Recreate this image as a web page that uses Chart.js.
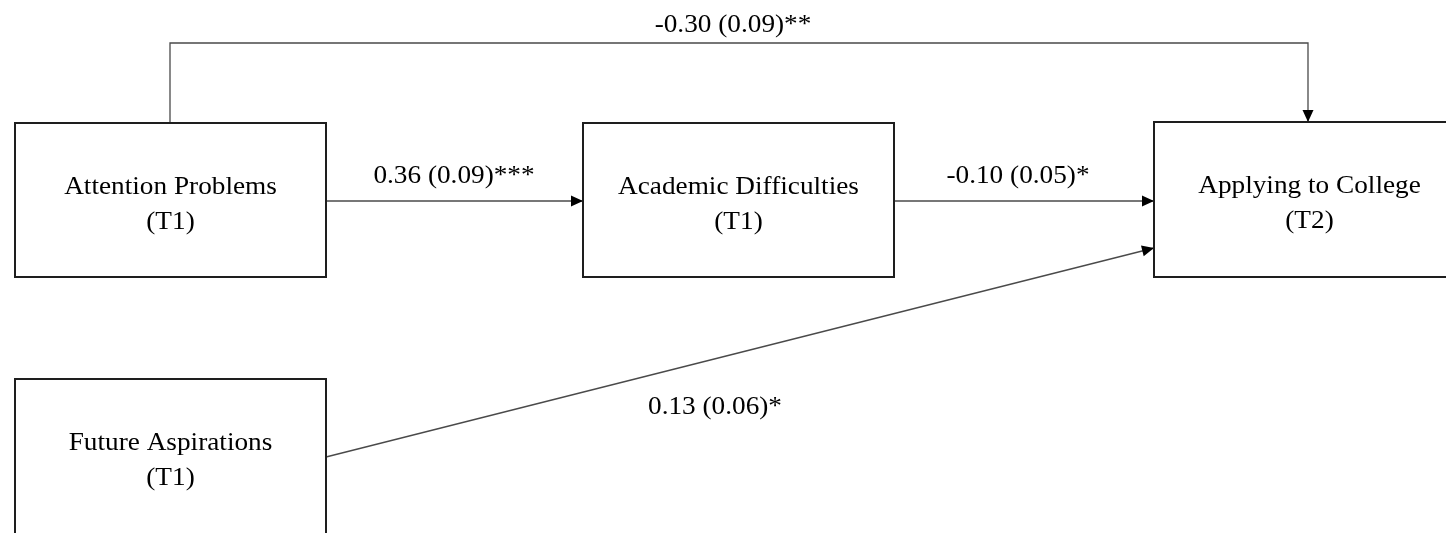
<!DOCTYPE html>
<html>
<head>
<meta charset="utf-8">
<title>Path model</title>
<script src="https://cdn.jsdelivr.net/npm/chart.js@4.4.1/dist/chart.umd.min.js"></script>
<style>
  html, body { margin: 0; padding: 0; background: #fff; }
  #wrap { width: 1446px; height: 533px; position: relative; }
</style>
</head>
<body>
<div id="wrap"><canvas id="myChart"></canvas></div>
<script>
// Variables in the model
const nodeNames = ["Attention Problems", "Academic Difficulties", "Applying to College", "Future Aspirations"];
const nodeTimes = ["(T1)", "(T1)", "(T2)", "(T1)"];

// Paths: from -> to, estimate (SE) and significance stars
const pathFrom = [0, 1, 0, 3];
const pathTo = [1, 2, 2, 2];
const estimates = [0.36, -0.10, -0.30, 0.13];
const stdErrors = [0.09, 0.05, 0.09, 0.06];
const stars = ["***", "*", "**", "*"];

// Layout (in axis units, which map 1:1 to the canvas)
const boxLeft = [15, 583, 1154, 15];
const boxTop = [123, 123, 122, 379];
const boxW = 311;
const boxH = [154, 154, 155, 158]; // last one runs off the bottom edge
// route for each path: list of [x, y] points, last one is the arrow tip
const pathRoutes = [
  [[326, 201], [583, 201]],
  [[894, 201], [1154, 201]],
  [[170, 123], [170, 43], [1308, 43], [1308, 122]],
  [[326, 457], [1154, 248]],
];
const labelPos = [[454, 183], [1018, 183], [733, 32], [715, 414]];

const fmt = (v) => v.toFixed(2);

const diagramPlugin = {
  id: "pathDiagram",
  afterDatasetsDraw(chart) {
    const { ctx, scales } = chart;
    const px = (v) => scales.x.getPixelForValue(v);
    const py = (v) => scales.y.getPixelForValue(v);
    const font = "25px 'Liberation Serif', 'Times New Roman', serif";

    // the reference text is a bit wider than the plain serif face
    const drawText = (text, x, y) => {
      ctx.save();
      ctx.translate(x, y);
      ctx.scale(1.09, 1);
      ctx.fillText(text, 0, 0);
      ctx.restore();
    };

    ctx.save();
    // paths
    pathRoutes.forEach((route) => {
      ctx.beginPath();
      route.forEach(([x, y], i) => {
        if (i === 0) ctx.moveTo(px(x), py(y));
        else ctx.lineTo(px(x), py(y));
      });
      ctx.strokeStyle = "#4a4a4a";
      ctx.lineWidth = 1.3;
      ctx.stroke();

      // arrow head
      const [x1, y1] = route[route.length - 2];
      const [x2, y2] = route[route.length - 1];
      const a = Math.atan2(py(y2) - py(y1), px(x2) - px(x1));
      const len = 12, half = 5.5;
      const tx = px(x2), ty = py(y2);
      ctx.beginPath();
      ctx.moveTo(tx, ty);
      ctx.lineTo(tx - len * Math.cos(a) + half * Math.sin(a), ty - len * Math.sin(a) - half * Math.cos(a));
      ctx.lineTo(tx - len * Math.cos(a) - half * Math.sin(a), ty - len * Math.sin(a) + half * Math.cos(a));
      ctx.closePath();
      ctx.fillStyle = "#000";
      ctx.fill();
    });

    // boxes
    nodeNames.forEach((name, i) => {
      const x0 = px(boxLeft[i]), y0 = py(boxTop[i]);
      const x1 = px(boxLeft[i] + boxW), y1 = py(boxTop[i] + boxH[i]);
      ctx.fillStyle = "#fff";
      ctx.fillRect(x0, y0, x1 - x0, y1 - y0);
      ctx.strokeStyle = "#1e1e1e";
      ctx.lineWidth = 2;
      ctx.strokeRect(x0, y0, x1 - x0, y1 - y0);

      const cx = px(boxLeft[i] + boxW / 2);
      ctx.fillStyle = "#000";
      ctx.font = font;
      ctx.textAlign = "center";
      ctx.textBaseline = "alphabetic";
      drawText(name, cx, py(boxTop[i] + 71));
      drawText(nodeTimes[i], cx, py(boxTop[i] + 106));
    });

    // coefficient labels
    estimates.forEach((est, i) => {
      ctx.fillStyle = "#000";
      ctx.font = font;
      ctx.textAlign = "center";
      ctx.textBaseline = "alphabetic";
      const [lx, ly] = labelPos[i];
      drawText(`${fmt(est)} (${fmt(stdErrors[i])})${stars[i]}`, px(lx), py(ly));
    });
    ctx.restore();
  },
};

const ctx = document.getElementById("myChart");
new Chart(ctx, {
  type: "scatter",
  data: {
    datasets: [
      {
        // node centres, the boxes are drawn around them by the plugin
        data: nodeNames.map((_, i) => ({ x: boxLeft[i] + boxW / 2, y: boxTop[i] + boxH[i] / 2 })),
        pointRadius: 0,
      },
    ],
  },
  options: {
    responsive: true,
    maintainAspectRatio: false,
    animation: false,
    layout: { padding: 0 },
    plugins: { legend: { display: false }, tooltip: { enabled: false } },
    scales: {
      x: { type: "linear", min: 0, max: 1446, display: false },
      y: { type: "linear", min: 0, max: 533, reverse: true, display: false },
    },
  },
  plugins: [diagramPlugin],
});
</script>
</body>
</html>
